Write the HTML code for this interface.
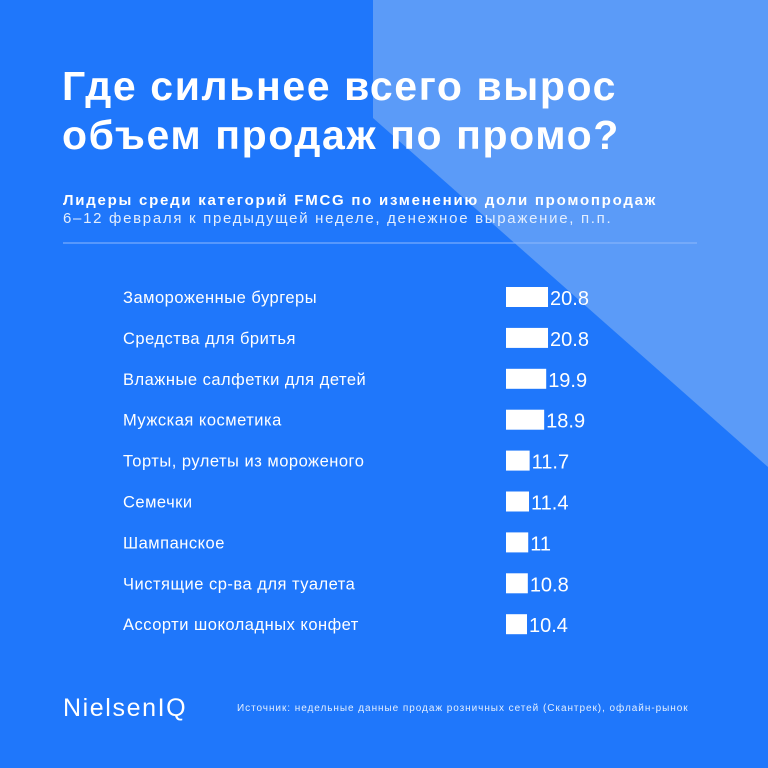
<!DOCTYPE html>
<html><head><meta charset="utf-8"><style>
body{margin:0;width:768px;height:768px;overflow:hidden;font-family:"Liberation Sans","DejaVu Sans",sans-serif;}
#c{position:relative;width:768px;height:768px;background:#1f77fb;overflow:hidden}
.t{position:absolute;color:#fff;white-space:nowrap}
</style></head><body>
<div id="c">
<svg width="768" height="768" style="position:absolute;left:0;top:0">
<polygon points="373,0 768,0 768,467 373,118" fill="#5b9bf8"/>
<line x1="63" y1="243" x2="697" y2="243" stroke="#8fbafc" stroke-width="1"/>
</svg>
<div class="t" style="left:62px;top:62px;font-size:41px;font-weight:bold;line-height:49px;letter-spacing:1.6px">Где сильнее всего вырос<br>объем продаж по промо?</div>
<div class="t" style="left:63px;top:192px;font-size:15px;font-weight:bold;letter-spacing:1.75px">Лидеры среди категорий FMCG по изменению доли промопродаж</div>
<div class="t" style="left:63px;top:210px;font-size:15px;color:#e3eefe;letter-spacing:1.7px">6–12 февраля к предыдущей неделе, денежное выражение, п.п.</div>
<svg id="chart" width="768" height="768" style="position:absolute;left:0;top:0"></svg>
<div class="t" style="left:63px;top:694px;font-size:25px;letter-spacing:1.6px">NielsenIQ</div>
<div class="t" style="left:237px;top:703px;font-size:10px;color:#e3eefe;letter-spacing:0.95px">Источник: недельные данные продаж розничных сетей (Скантрек), офлайн-рынок</div>
</div>
<script>
const categories=["Замороженные бургеры","Средства для бритья","Влажные салфетки для детей","Мужская косметика","Торты, рулеты из мороженого","Семечки","Шампанское","Чистящие ср-ва для туалета","Ассорти шоколадных конфет"];
const values=[20.8,20.8,19.9,18.9,11.7,11.4,11,10.8,10.4];
const valueLabels=["20.8","20.8","19.9","18.9","11.7","11.4","11","10.8","10.4"];
const svg=document.getElementById('chart');
const NS='http://www.w3.org/2000/svg';
const x0=506, pxPerUnit=2.02;
const xs=v=>v*pxPerUnit;
const ys=i=>297+i*40.9;
categories.forEach((c,i)=>{
  const cy=ys(i);
  const lab=document.createElementNS(NS,'text');
  lab.setAttribute('x',123);lab.setAttribute('y',cy+6);lab.setAttribute('fill','#fff');lab.setAttribute('font-size','16.5');lab.setAttribute('letter-spacing','0.5');
  lab.textContent=c;
  
  
  svg.appendChild(lab);
  const r=document.createElementNS(NS,'rect');
  r.setAttribute('x',x0);r.setAttribute('y',cy-10);r.setAttribute('width',xs(values[i]));r.setAttribute('height',20);r.setAttribute('fill','#fff');
  
  
  svg.appendChild(r);
  const v=document.createElementNS(NS,'text');
  v.setAttribute('x',x0+xs(values[i])+2);v.setAttribute('y',cy+8);v.setAttribute('fill','#fff');v.setAttribute('font-size','20');
  v.textContent=valueLabels[i];
  
  
  svg.appendChild(v);
});
</script>
</body></html>
